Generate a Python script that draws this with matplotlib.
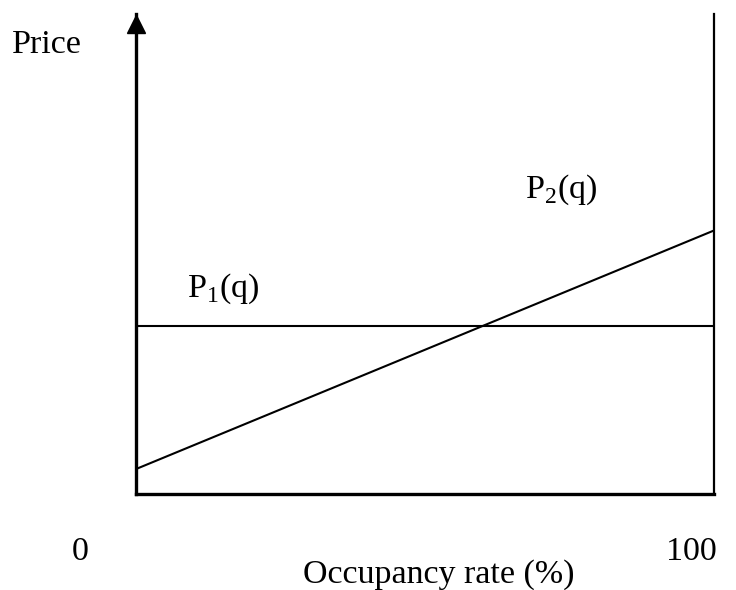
import matplotlib
matplotlib.use("Agg")
import matplotlib.pyplot as plt

plt.rcParams['font.family'] = ['Liberation Serif', 'DejaVu Serif']
plt.rcParams['mathtext.fontset'] = 'custom'
plt.rcParams['mathtext.rm'] = 'Liberation Serif'

# occupancy rate (%) and price (arbitrary units)
occupancy = [0, 100]
p1_price = [35.1, 35.1]
p2_price = [5.2, 54.9]
x_ticks = [0, 100]
x_tick_labels = ['0', '100']

W, H = 736, 590
fig = plt.figure(figsize=(W / 100, H / 100), dpi=100)
ax = fig.add_axes([136 / W, (H - 494) / H, (714 - 136) / W, (494 - 14) / H])

ax.plot(occupancy, p1_price, color='black', lw=1.5, solid_capstyle='butt')
ax.plot(occupancy, p2_price, color='black', lw=1.5, solid_capstyle='butt')

ax.set_xlim(0, 100)
ax.set_ylim(0, 100)

ax.spines['top'].set_visible(False)
ax.spines['left'].set_linewidth(2.4)
ax.spines['bottom'].set_linewidth(2.4)
ax.spines['right'].set_linewidth(1.6)
ax.set_xticks([])
ax.set_yticks([])

# arrow head on the price axis
ax.plot(0, 97.9, marker='^', ms=12.5, color='black', clip_on=False)

fs = 24.5
fig.text(12 / W, 1 - 45 / H, 'Price', fontsize=fs, va='center', ha='left')
for v, lab in zip(x_ticks, x_tick_labels):
    ax.annotate(lab, xy=(v, 0), xycoords='data',
                xytext=(-56 if v == 0 else -23, -58), textcoords='offset pixels',
                fontsize=fs, ha='center', va='center')
fig.text(439 / W, 1 - 575 / H, 'Occupancy rate (%)', fontsize=fs, ha='center', va='center')
fig.text(187 / W, 1 - 289 / H, r'P$_\mathregular{1}$(q)', fontsize=fs, ha='left', va='center')
fig.text(525 / W, 1 - 190 / H, r'P$_\mathregular{2}$(q)', fontsize=fs, ha='left', va='center')

plt.savefig("out.png", dpi=100)
